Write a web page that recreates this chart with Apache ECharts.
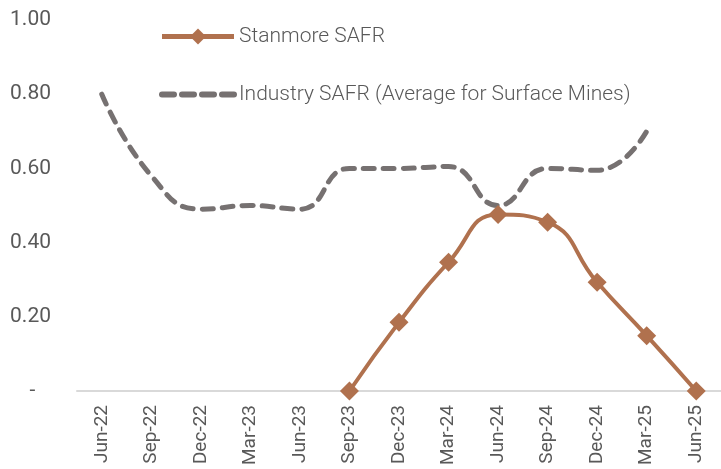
<!DOCTYPE html>
<html>
<head>
<meta charset="utf-8">
<script src="https://cdn.jsdelivr.net/npm/echarts@6/dist/echarts.min.js"></script>
<style>
  html, body { margin: 0; padding: 0; background: #fff; }
  #chart { width: 721px; height: 469px; }
</style>
</head>
<body>
<div id="chart"></div>
<script>
var quarters = ['Jun-22', 'Sep-22', 'Dec-22', 'Mar-23', 'Jun-23', 'Sep-23', 'Dec-23',
    'Mar-24', 'Jun-24', 'Sep-24', 'Dec-24', 'Mar-25', 'Jun-25'];
var stanmoreSafr = [null, null, null, null, null, 0, 0.185, 0.347, 0.476, 0.455, 0.293, 0.149, 0];
var industrySafr = [0.80, 0.58, 0.49, 0.50, 0.49, 0.60, 0.60, 0.605, 0.50, 0.60, 0.595, 0.70, null];

var chart = echarts.init(document.getElementById('chart'));

chart.setOption({
    animation: false,
    textStyle: { fontFamily: 'Roboto' },
    grid: { left: 77, right: -6, top: 20, bottom: 78 },
    legend: {
        orient: 'vertical',
        left: 154,
        top: 21,
        itemWidth: 72,
        itemHeight: 20,
        itemGap: 37,
        textStyle: { fontSize: 21, color: '#595959', fontFamily: 'Roboto', fontWeight: 300 },
        data: [
            { name: 'Stanmore SAFR', lineStyle: { width: 5 } },
            {
                name: 'Industry SAFR (Average for Surface Mines)',
                itemStyle: { opacity: 0 },
                lineStyle: { width: 6, type: [12, 8], cap: 'round' }
            }
        ]
    },
    xAxis: {
        type: 'category',
        data: quarters,
        boundaryGap: true,
        axisLine: { lineStyle: { color: '#d9d9d9', width: 2 } },
        axisTick: { length: 6, lineStyle: { color: '#d9d9d9', width: 2 } },
        axisLabel: { rotate: 90, fontSize: 19, color: '#595959', margin: 14, interval: 0 }
    },
    yAxis: {
        type: 'value',
        min: 0,
        max: 1,
        interval: 0.2,
        splitLine: { show: false },
        axisLine: { show: false },
        axisLabel: {
            fontSize: 21,
            color: '#595959',
            margin: 26,
            formatter: function(v) {
                return v === 0 ? '-   ' : v.toFixed(2);
            }
        }
    },
    series: [
        {
            name: 'Stanmore SAFR',
            type: 'line',
            data: stanmoreSafr,
            smooth: 0.5,
            symbol: 'diamond',
            symbolSize: 19,
            itemStyle: { color: '#b0714e' },
            lineStyle: { color: '#b0714e', width: 4 }
        },
        {
            name: 'Industry SAFR (Average for Surface Mines)',
            type: 'line',
            data: industrySafr,
            smooth: 0.5,
            symbol: 'none',
            itemStyle: { color: '#767171' },
            lineStyle: { color: '#767171', width: 5, type: [11, 9], cap: 'round' }
        }
    ]
});
</script>
</body>
</html>
